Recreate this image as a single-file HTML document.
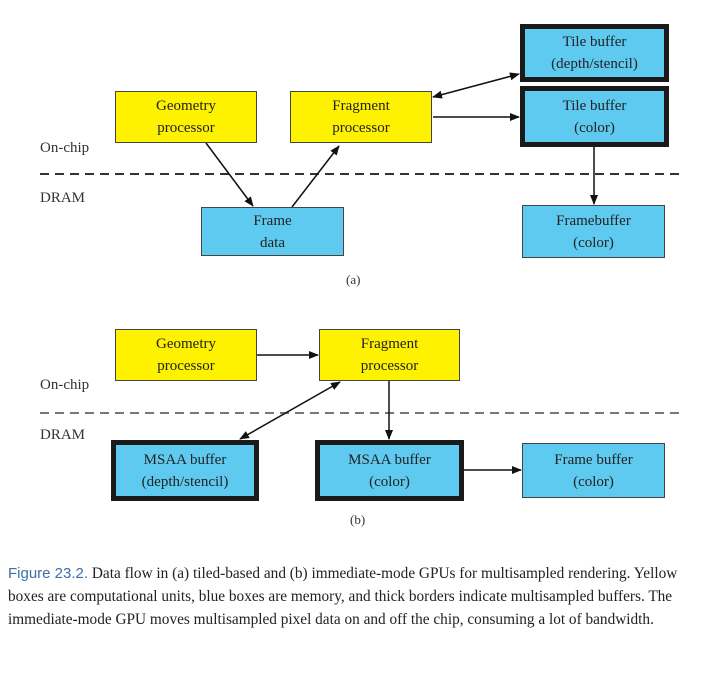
<!DOCTYPE html>
<html><head><meta charset="utf-8"><style>
body{margin:0;background:#fff;width:720px;height:674px;position:relative;overflow:hidden;font-family:"Liberation Serif",serif;}
.b{position:absolute;box-sizing:border-box;border:1.5px solid #444;display:flex;align-items:center;justify-content:center;text-align:center;font-size:15px;line-height:22px;color:#222;}
.y{background:#fff200;}
.c{background:#5fcaf0;}
.t{border:5px solid #1a1a1a;}
.l{position:absolute;font-size:15px;color:#333;}
.cap{position:absolute;left:8px;top:562px;width:705px;font-size:15.3px;line-height:23px;color:#222;}
.cap b{font-family:"Liberation Sans",sans-serif;font-weight:normal;color:#3a6fa8;font-size:15px;}
</style></head><body>
<svg width="720" height="674" style="position:absolute;left:0;top:0">
<defs><marker id="a" markerWidth="10" markerHeight="8" refX="9" refY="4" orient="auto" markerUnits="userSpaceOnUse"><path d="M0,0L10,4L0,8z" fill="#111"/></marker>
<marker id="s" markerWidth="10" markerHeight="8" refX="1" refY="4" orient="auto" markerUnits="userSpaceOnUse"><path d="M10,0L0,4L10,8z" fill="#111"/></marker></defs>
<line x1="40" y1="174" x2="681" y2="174" stroke="#333" stroke-width="2" stroke-dasharray="9,6"/>
<line x1="40" y1="413" x2="681" y2="413" stroke="#777" stroke-width="2" stroke-dasharray="9,6"/>
<g stroke="#111" stroke-width="1.5" fill="none">
<line x1="206" y1="143" x2="253" y2="206" marker-end="url(#a)"/>
<line x1="292" y1="207" x2="339" y2="146" marker-end="url(#a)"/>
<line x1="433" y1="97" x2="519" y2="74" marker-end="url(#a)" marker-start="url(#s)"/>
<line x1="433" y1="117" x2="519" y2="117" marker-end="url(#a)"/>
<line x1="594" y1="147" x2="594" y2="204" marker-end="url(#a)"/>
<line x1="257" y1="355" x2="318" y2="355" marker-end="url(#a)"/>
<line x1="340" y1="382" x2="240" y2="439" marker-end="url(#a)" marker-start="url(#s)"/>
<line x1="389" y1="381" x2="389" y2="439" marker-end="url(#a)"/>
<line x1="464" y1="470" x2="521" y2="470" marker-end="url(#a)"/>
</g></svg>
<div class="l" style="left:40px;top:140px">On-chip</div>
<div class="l" style="left:40px;top:190px">DRAM</div>
<div class="l" style="left:346px;top:272px;font-size:13px">(a)</div>
<div class="l" style="left:40px;top:377px">On-chip</div>
<div class="l" style="left:40px;top:427px">DRAM</div>
<div class="l" style="left:350px;top:512px;font-size:13px">(b)</div>
<div class="b y" style="left:115px;top:91px;width:142px;height:52px">Geometry<br>processor</div>
<div class="b y" style="left:290px;top:91px;width:142px;height:52px">Fragment<br>processor</div>
<div class="b c t" style="left:520px;top:24px;width:149px;height:58px">Tile buffer<br>(depth/stencil)</div>
<div class="b c t" style="left:520px;top:86px;width:149px;height:61px">Tile buffer<br>(color)</div>
<div class="b c" style="left:201px;top:207px;width:143px;height:49px">Frame<br>data</div>
<div class="b c" style="left:522px;top:205px;width:143px;height:53px">Framebuffer<br>(color)</div>
<div class="b y" style="left:115px;top:329px;width:142px;height:52px">Geometry<br>processor</div>
<div class="b y" style="left:319px;top:329px;width:141px;height:52px">Fragment<br>processor</div>
<div class="b c t" style="left:111px;top:440px;width:148px;height:61px">MSAA buffer<br>(depth/stencil)</div>
<div class="b c t" style="left:315px;top:440px;width:149px;height:61px">MSAA buffer<br>(color)</div>
<div class="b c" style="left:522px;top:443px;width:143px;height:55px">Frame buffer<br>(color)</div>
<div class="cap"><b>Figure 23.2.</b> Data flow in (a) tiled-based and (b) immediate-mode GPUs for multisampled rendering. Yellow boxes are computational units, blue boxes are memory, and thick borders indicate multisampled buffers. The immediate-mode GPU moves multisampled pixel data on and off the chip, consuming a lot of bandwidth.</div>
</body></html>
